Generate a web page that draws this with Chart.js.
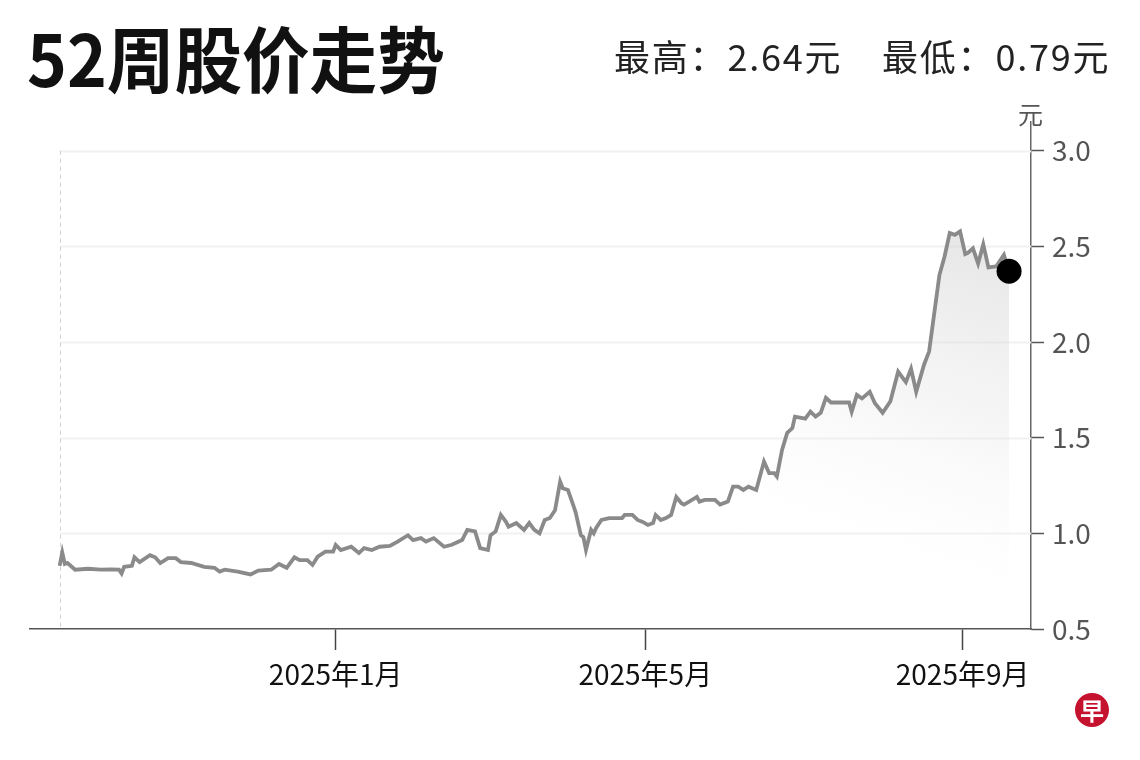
<!DOCTYPE html>
<html>
<head>
<meta charset="utf-8">
<script src="https://cdn.jsdelivr.net/npm/chart.js@4.4.1/dist/chart.umd.min.js"></script>
<style>
  html, body { margin: 0; padding: 0; background: #fff; }
  #wrap { position: relative; width: 1140px; height: 760px; overflow: hidden; font-family: "Noto Sans CJK SC", "Noto Sans", sans-serif; }
  #chart { position: absolute; left: 0; top: 0; }
  .title { position: absolute; left: 27px; top: 20px; font-size: 72px; font-weight: 700; line-height: 1; color: #111; white-space: nowrap; transform-origin: 0 0; }
  .stat { position: absolute; top: 37px; font-size: 36px; line-height: 1; color: #222; white-space: nowrap; letter-spacing: 1.8px; }
  .unit { position: absolute; left: 1018px; top: 101px; font-size: 25px; line-height: 1; color: #555; }
  .logo { position: absolute; left: 1075px; top: 693px; width: 34px; height: 34px; border-radius: 50%; background: #c4122f; color: #fff; font-size: 24px; font-weight: 700; line-height: 34px; text-align: center; }
</style>
</head>
<body>
<div id="wrap">
  <canvas id="chart" width="1140" height="760"></canvas>
  <div class="title" id="title">52周股价走势</div>
  <div class="stat" id="statHigh" style="left:614px">最高：2.64元</div>
  <div class="stat" id="statLow" style="left:882px">最低：0.79元</div>
  <div class="unit">元</div>
  <div class="logo">早</div>
</div>
<script>
// ---- data ----
const dates = [
  '2024-09-16','2024-09-17','2024-09-18','2024-09-19','2024-09-22','2024-09-27',
  '2024-10-02','2024-10-06','2024-10-09','2024-10-10','2024-10-11','2024-10-14','2024-10-15','2024-10-17','2024-10-21','2024-10-23','2024-10-25','2024-10-28','2024-10-31',
  '2024-11-02','2024-11-06','2024-11-11','2024-11-15','2024-11-17','2024-11-19','2024-11-24','2024-11-29',
  '2024-12-02','2024-12-07','2024-12-10','2024-12-13','2024-12-16','2024-12-18','2024-12-21','2024-12-23','2024-12-25','2024-12-28','2024-12-31',
  '2025-01-01','2025-01-03','2025-01-07','2025-01-10','2025-01-12','2025-01-15','2025-01-18','2025-01-22','2025-01-25','2025-01-29','2025-01-31',
  '2025-02-03','2025-02-05','2025-02-08','2025-02-12','2025-02-15','2025-02-19','2025-02-21','2025-02-24','2025-02-26',
  '2025-03-01','2025-03-02','2025-03-04','2025-03-06','2025-03-08','2025-03-09','2025-03-12','2025-03-15','2025-03-17','2025-03-19','2025-03-21','2025-03-23','2025-03-25','2025-03-27','2025-03-29','2025-03-30',
  '2025-04-01','2025-04-03','2025-04-04','2025-04-06','2025-04-07','2025-04-08','2025-04-10','2025-04-11','2025-04-12','2025-04-14','2025-04-17','2025-04-22','2025-04-23','2025-04-26','2025-04-28','2025-04-30',
  '2025-05-02','2025-05-04','2025-05-05','2025-05-07','2025-05-09','2025-05-11','2025-05-13','2025-05-15','2025-05-16','2025-05-18','2025-05-21','2025-05-22','2025-05-24','2025-05-28','2025-05-30',
  '2025-06-02','2025-06-04','2025-06-06','2025-06-08','2025-06-10','2025-06-13','2025-06-16','2025-06-18','2025-06-20','2025-06-21','2025-06-23','2025-06-25','2025-06-27','2025-06-28',
  '2025-07-02','2025-07-04','2025-07-06','2025-07-08','2025-07-10','2025-07-12','2025-07-19','2025-07-20','2025-07-22','2025-07-24','2025-07-27','2025-07-29',
  '2025-08-01','2025-08-04','2025-08-07','2025-08-10','2025-08-12','2025-08-14','2025-08-17','2025-08-19','2025-08-21','2025-08-23','2025-08-25','2025-08-27','2025-08-29','2025-08-31',
  '2025-09-02','2025-09-03','2025-09-05','2025-09-07','2025-09-09','2025-09-11','2025-09-14','2025-09-17','2025-09-19'
];
const prices = [
  0.83,0.90,0.84,0.845,0.81,0.815,
  0.81,0.812,0.81,0.79,0.825,0.83,0.875,0.85,0.886,0.875,0.845,0.87,0.87,
  0.85,0.845,0.825,0.82,0.80,0.81,0.80,0.785,
  0.805,0.81,0.84,0.82,0.875,0.86,0.86,0.835,0.878,0.904,0.904,
  0.94,0.913,0.93,0.897,0.923,0.913,0.93,0.934,0.957,0.99,0.965,
  0.975,0.957,0.975,0.93,0.94,0.965,1.018,1.01,0.923,
  0.913,0.99,1.01,1.096,1.06,1.035,1.054,1.018,1.054,1.018,1.0,1.07,1.08,1.12,1.27,1.236,
  1.227,1.15,1.11,0.99,0.98,0.913,1.018,1.0,1.03,1.07,1.08,1.08,1.096,1.096,1.07,1.06,
  1.044,1.054,1.096,1.07,1.08,1.096,1.19,1.157,1.15,1.166,1.19,1.166,1.175,1.175,1.15,
  1.166,1.244,1.244,1.227,1.244,1.227,1.375,1.315,1.315,1.297,1.436,1.525,1.55,1.61,
  1.60,1.636,1.61,1.63,1.708,1.684,1.684,1.636,1.724,1.705,1.74,1.68,
  1.63,1.69,1.845,1.79,1.86,1.74,1.88,1.95,2.15,2.35,2.447,2.57,2.56,2.578,
  2.46,2.466,2.49,2.41,2.51,2.39,2.395,2.456,2.37
];
const xTickDates = ['2025-01-01','2025-05-01','2025-09-01'];
const xTickLabels = ['2025年1月','2025年5月','2025年9月'];
const yTickValues = [0.5, 1.0, 1.5, 2.0, 2.5, 3.0];
const gridValues = [1.0, 1.5, 2.0, 2.5, 3.0];

// ---- helpers ----
const EPOCH = Date.UTC(2025, 0, 1);
function dayOf(s) {
  const [y, m, d] = s.split('-').map(Number);
  return (Date.UTC(y, m - 1, d) - EPOCH) / 86400000;
}
const points = dates.map((d, i) => ({ x: dayOf(d), y: prices[i] }));
const xTickDays = xTickDates.map(dayOf);
const lastIdx = points.length - 1;

const decor = {
  id: 'decor',
  beforeDatasetsDraw(chart) {
    const { ctx, chartArea, scales } = chart;
    const x0 = scales.x.getPixelForValue(points[0].x);
    ctx.save();
    ctx.strokeStyle = '#f1f1f1';
    ctx.lineWidth = 2;
    gridValues.forEach(v => {
      const y = Math.round(scales.y.getPixelForValue(v)) + 0.5;
      ctx.beginPath();
      ctx.moveTo(x0, y);
      ctx.lineTo(chartArea.right, y);
      ctx.stroke();
    });
    ctx.strokeStyle = '#d0d0d0';
    ctx.lineWidth = 1;
    ctx.setLineDash([4, 4]);
    ctx.beginPath();
    ctx.moveTo(Math.round(x0) + 0.5, scales.y.getPixelForValue(3.0));
    ctx.lineTo(Math.round(x0) + 0.5, chartArea.bottom);
    ctx.stroke();
    ctx.restore();
  }
};

const ctx = document.getElementById('chart').getContext('2d');
new Chart(ctx, {
  type: 'line',
  data: {
    datasets: [{
      data: points,
      borderColor: '#8a8a8a',
      borderWidth: 3.8,
      tension: 0,
      fill: 'start',
      backgroundColor(c) {
        const { chart } = c;
        const { ctx, chartArea } = chart;
        if (!chartArea) return 'rgba(0,0,0,0)';
        const g = ctx.createLinearGradient(chartArea.right - 30, 240, chartArea.right - 150, 580);
        g.addColorStop(0, 'rgba(205,205,205,0.5)');
        g.addColorStop(0.5, 'rgba(225,225,225,0.3)');
        g.addColorStop(1, 'rgba(255,255,255,0)');
        return g;
      },
      pointRadius: c => (c.dataIndex === lastIdx ? 12.5 : 0),
      pointHoverRadius: c => (c.dataIndex === lastIdx ? 12.5 : 0),
      pointBackgroundColor: '#000',
      pointBorderWidth: 0,
      clip: false
    }]
  },
  options: {
    responsive: false,
    animation: false,
    devicePixelRatio: 1,
    layout: { padding: { top: 122, left: 30, right: 0, bottom: 0 } },
    plugins: { legend: { display: false }, tooltip: { enabled: false } },
    scales: {
      x: {
        type: 'linear',
        min: -118.5,
        max: 269.5,
        afterBuildTicks: s => { s.ticks = xTickDays.map(v => ({ value: v })); },
        afterFit: s => { s.height = 131; },
        border: { display: true, color: '#555', width: 1.5 },
        grid: { display: true, drawOnChartArea: false, drawTicks: true, tickLength: 21, tickColor: '#444', tickWidth: 1.5 },
        ticks: {
          autoSkip: false, maxRotation: 0, padding: 8,
          color: '#111',
          font: { family: '"Noto Sans CJK SC", "Noto Sans", sans-serif', size: 28 },
          callback: (v, i) => xTickLabels[i]
        }
      },
      y: {
        position: 'right',
        min: 0.5,
        max: 3.15,
        afterBuildTicks: s => { s.ticks = yTickValues.map(v => ({ value: v })); },
        afterFit: s => { s.width = 109; },
        border: { display: true, color: '#666', width: 1.5 },
        grid: { display: true, drawOnChartArea: false, drawTicks: true, tickLength: 13, tickColor: '#555', tickWidth: 1.5 },
        ticks: {
          padding: 8,
          color: '#555',
          font: { family: '"Noto Sans CJK SC", "Noto Sans", sans-serif', size: 28 },
          callback: v => Number(v).toFixed(1)
        }
      }
    }
  },
  plugins: [decor]
});

const t = document.getElementById('title');
const w = t.getBoundingClientRect().width;
if (w > 0) t.style.transform = 'scaleX(' + (418 / w).toFixed(3) + ')';
</script>
</body>
</html>
